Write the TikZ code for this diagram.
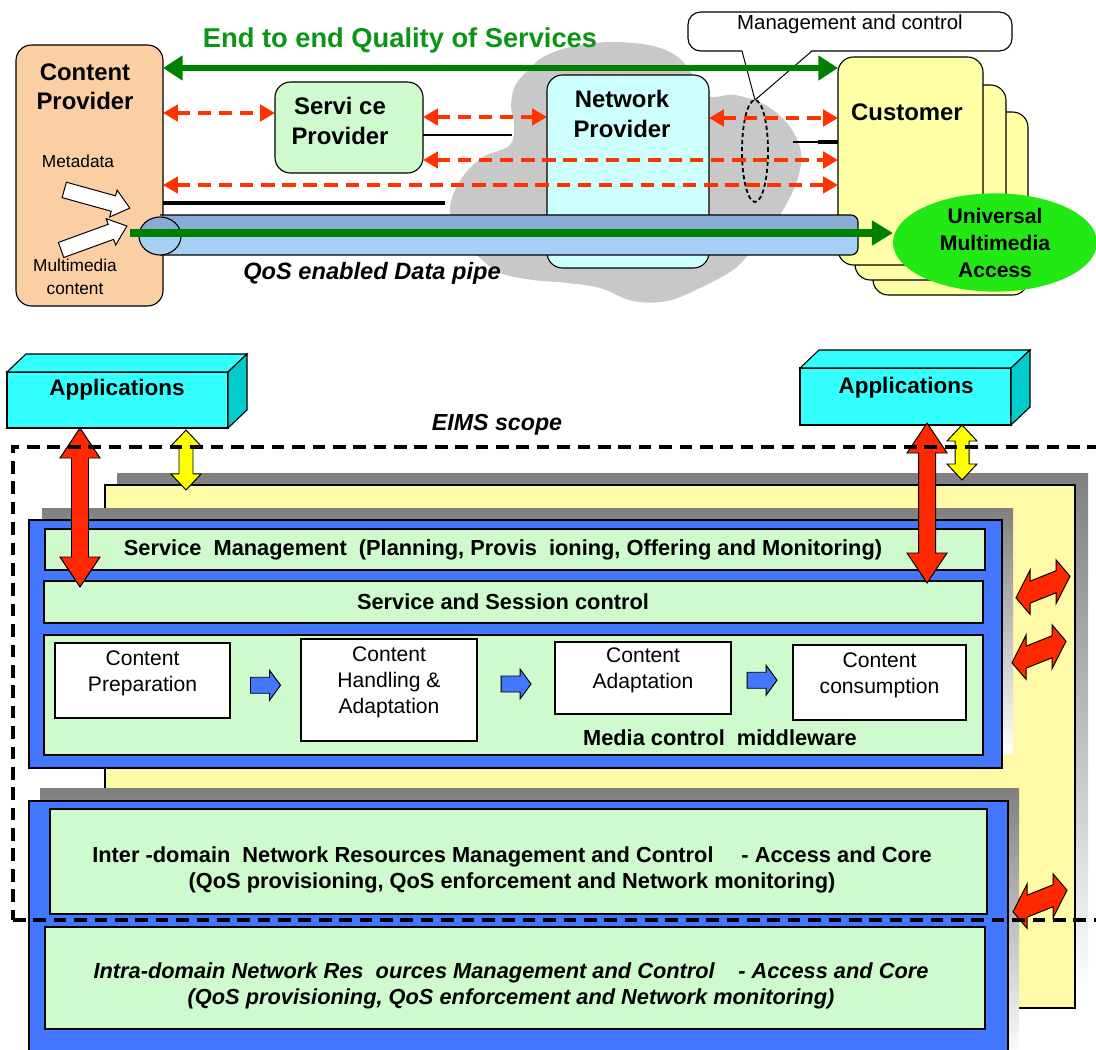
\documentclass[tikz,border=0pt]{standalone}
\usepackage{fontspec}
\setmainfont{Liberation Sans}
\usetikzlibrary{arrows.meta,fit,calc,shapes.geometric}

\definecolor{peach}{RGB}{252,206,164}
\definecolor{spgreen}{RGB}{206,250,206}
\definecolor{npcyan}{RGB}{206,255,255}
\definecolor{cuyel}{RGB}{255,255,165}
\definecolor{cloudgray}{RGB}{200,200,200}
\definecolor{qosgreen}{RGB}{0,128,0}
\definecolor{ttlgreen}{RGB}{10,150,20}
\definecolor{dashred}{RGB}{255,51,0}
\definecolor{umagreen}{RGB}{34,232,20}
\definecolor{pipehi}{RGB}{136,172,212}
\definecolor{pipelo}{RGB}{166,208,246}
\definecolor{appcyan}{RGB}{51,255,255}
\definecolor{appside}{RGB}{0,204,204}
\definecolor{panblue}{RGB}{68,119,255}
\definecolor{rowgreen}{RGB}{206,250,206}
\definecolor{shade}{RGB}{140,140,140}
\definecolor{paleyel}{RGB}{255,250,165}
\definecolor{blockred}{RGB}{255,40,0}
\definecolor{blockyel}{RGB}{255,255,0}

% double block arrow: style, centre, half length, head length, half head, half shaft
\newcommand{\dblarrow}[6]{%
  \begin{scope}[shift={#2},#1]
    \filldraw[line width=0.7pt] (-#3,0) -- (-#3+#4,#5) -- (-#3+#4,#6) -- (#3-#4,#6) -- (#3-#4,#5) -- (#3,0)
      -- (#3-#4,-#5) -- (#3-#4,-#6) -- (-#3+#4,-#6) -- (-#3+#4,-#5) -- cycle;
  \end{scope}}
% single block arrow, same arguments
\newcommand{\onearrow}[6]{%
  \begin{scope}[shift={#2},#1]
    \filldraw[line width=0.7pt] (-#3,#6) -- (#3-#4,#6) -- (#3-#4,#5) -- (#3,0) -- (#3-#4,-#5)
      -- (#3-#4,-#6) -- (-#3,-#6) -- cycle;
  \end{scope}}

\tikzset{
  box/.style={draw, line width=0.8pt, rounded corners=11pt},
  lab/.style={font=\fontsize{17}{21}\selectfont\bfseries, align=center},
  labs/.style={font=\fontsize{12.3}{16}\selectfont, align=center},
  rowtxt/.style={font=\fontsize{15.5}{18.5}\selectfont\bfseries, align=center},
  ctxt/.style={font=\fontsize{15}{18.5}\selectfont, align=center},
  rdash/.style={draw=dashred, line width=3.4pt, dash pattern=on 9.5pt off 5.5pt,
    {Triangle[length=10.5pt,width=11.5pt]}-{Triangle[length=10.5pt,width=11.5pt]}},
  gdbl/.style={draw=qosgreen, line width=4.2pt,
    {Triangle[length=14pt,width=17pt]}-{Triangle[length=14pt,width=17pt]}},
  gpipe/.style={draw=qosgreen, line width=5pt, -{Triangle[length=15pt,width=17pt]}},
  row/.style={draw, line width=0.8pt, fill=rowgreen},
  panel/.style={draw, line width=0.8pt, fill=panblue},
  cbox/.style={draw, line width=0.8pt, fill=white, ctxt},
  app/.style={draw, line width=0.8pt, fill=appcyan},
  eims/.style={line width=3pt, dash pattern=on 9pt off 5.5pt}
}

\begin{document}
\begin{tikzpicture}[x=0.025cm, y=-0.025cm, every node/.style={inner sep=0pt, outer sep=0pt}]
  \def\u{0.025cm}
  \fill[white] (0,0) rectangle (1096,1050);
  \useasboundingbox (0,0) rectangle (1096,1050);

  % Cloud
  \fill[cloudgray] plot[smooth cycle, tension=0.6] coordinates {(450,213) (455,190) (468,170) (485,156)
    (510,145) (514,125) (511,105) (515,86) (528,70) (545,56) (575,46) (613,42) (653,46) (678,57)
    (692,74) (708,96) (735,95) (767,106) (790,127) (801,153) (797,181) (783,210) (767,233) (750,253)
    (733,270) (700,288) (667,301) (633,301) (600,288) (567,283) (533,280) (500,273) (480,258) (460,240)};

  \node[font=\fontsize{19.4}{22}\selectfont\bfseries, text=ttlgreen] (eeq) at (400,40) {End to end Quality of Services};

  % Providers
  \node[box, fill=peach, fit={(16,45) (163,306)}] (cp) {};
  \node[lab] (cptxt) at (85,87) {Content\\Provider};
  \node[labs] (meta) at (78,161) {Metadata};
  \node[labs] (mmc) at (75,277) {Multimedia\\content};
  \onearrow{fill=white, rotate=-15.5}{(97,199)}{34}{17}{14}{8}
  \onearrow{fill=white, rotate=20}{(94,238)}{35}{17}{14}{8}

  \node[box, fill=spgreen, fit={(275,82) (423,173)}] (sp) {};
  \node[lab] (sptxt) at (340,121) {Servi ce\\Provider};
  \node[box, fill=npcyan, fit={(547,75) (709,268)}] (np) {};
  \node[lab] (nptxt) at (622,114) {Network\\Provider};

  % Customers
  \node[box, fill=cuyel, fit={(873,112) (1028,295)}] (cu3) {};
  \node[box, fill=cuyel, fit={(855,85) (1006,280)}] (cu2) {};
  \node[box, fill=cuyel, fit={(838,57) (983,265)}] (cu) {};
  \node[lab] (cutxt) at (907,112) {Customer};

  % Management and control
  \node[draw, line width=0.8pt, fill=white, rounded corners=9pt, fit={(688,12) (1012,51)},
    font=\fontsize{14.5}{17}\selectfont] (mc) {Management and control};
  \node[draw, ellipse, dash pattern=on 3pt off 2pt, line width=1.3pt,
    minimum width=26*\u, minimum height=102*\u] (me) at (755,151) {};
  \fill[white] (742,50) -- (me.north) -- (812,50) -- cycle;
  \draw[line width=0.7pt] (742,51) -- (me.north) -- (812,51);

  % Signalling
  \draw[rdash] (cp.east |- 0,113) -- (sp.west |- 0,113);
  \draw[rdash] (sp.east |- 0,117) -- (np.west |- 0,117);
  \draw[rdash] (np.east |- 0,118) -- (cu.west |- 0,118);
  \draw[rdash] (sp.east |- 0,160) -- (cu.west |- 0,160);
  \draw[rdash] (cp.east |- 0,185) -- (cu.west |- 0,185);
  \draw[line width=0.8pt] (sp.east |- 0,135) -- (512,135);
  \draw[line width=0.8pt] (793,142) -- (818,142);
  \draw[line width=2.5pt] (818,142) -- (cu.west |- 0,142);
  \draw[line width=2.2pt] (cp.east |- 0,203) -- (445,203);

  % Data pipe
  \begin{scope}
    \clip[rounded corners=5pt] (160,215) rectangle (858,255);
    \fill[pipehi] (150,215) rectangle (858,234);
    \fill[pipelo] (150,234) rectangle (858,255);
  \end{scope}
  \draw[line width=0.8pt, rounded corners=5pt] (160,215) -- (858,215) -- (858,255) -- (160,255);
  \node[draw, ellipse, line width=0.8pt, fill=pipelo, minimum width=42*\u, minimum height=38*\u,
    path picture={\fill[pipehi] (path picture bounding box.north west) rectangle (path picture bounding box.east);}]
    (cap) at (160,236) {};
  \node[ellipse, fill=umagreen, minimum width=204*\u, minimum height=95*\u,
    font=\fontsize{15}{19.2}\selectfont\bfseries, align=center] (uma) at (995,242.5) {Universal\\Multimedia\\Access};
  \coordinate (pin) at (130,233);
  \draw[gpipe] (pin) -- (uma.west |- pin);
  \node[font=\fontsize{16.8}{20}\selectfont\bfseries\itshape] (qtxt) at (372,273) {QoS enabled Data pipe};

  \draw[gdbl] (cp.east |- 0,68) -- (cu.west |- 0,68);

  % EIMS layers
  \fill[shade] (117,473) rectangle (1088,995);
  \node[draw, line width=0.8pt, fill=paleyel, fit={(105,485) (1075,1008)}] (ypan) {};
  \fill[shade] (42,508) rectangle (1013,753);
  \node[panel, fit={(29,520) (1002,768)}] (upan) {};
  \node[row, fit={(45,529) (985,570)}] (smg) {};
  \node[rowtxt] at (503,550) {Service~~Management~~(Planning, Provis~~ioning, Offering and Monitoring)};
  \node[row, fit={(44,581) (983,623)}] (ssc) {};
  \node[rowtxt] at (503,602) {Service and Session control};
  \node[row, fit={(44,635) (983,755)}] (mcm) {};
  \node[rowtxt] at (720,738) {Media control~~middleware};

  \node[cbox, fit={(55,643) (230,718)}] (cprep) {Content\\Preparation};
  \node[cbox, fit={(301,639) (477,741)}] (chand) {Content\\Handling \&\\Adaptation};
  \node[cbox, fit={(555,642) (731,714)}] (cadap) {Content\\Adaptation};
  \node[cbox, fit={(793,645) (966,720)}] (ccons) {Content\\consumption};
  \onearrow{fill=panblue}{($(cprep.east)!.5!(chand.west)$)}{15}{11}{15}{8}
  \onearrow{fill=panblue}{($(chand.east)!.5!(cadap.west)$)}{15}{11}{15}{8}
  \onearrow{fill=panblue}{($(cadap.east)!.5!(ccons.west)$)}{15}{11}{15}{8}

  \fill[shade] (40,788) rectangle (1019,1060);
  \node[panel, fit={(29,801) (1008,1060)}] (lpan) {};
  \node[row, fit={(50,809) (987,914)}] (inter) {};
  \node[rowtxt] at (512,870) {Inter -domain~~Network Resources Management and Control\hspace{1em} - Access and Core\\
    (QoS provisioning, QoS enforcement and Network monitoring)};
  \node[row, fit={(45,927) (985,1029)}] (intra) {};
  \node[rowtxt, font=\fontsize{15.5}{18.5}\selectfont\bfseries\itshape] at (511,986)
    {Intra-domain Network Res~~ources Management and Control\hspace{0.8em} - Access and Core\\
    (QoS provisioning, QoS enforcement and Network monitoring)};

  % Applications
  \node[app, fit={(7,372) (228,428)}] (apl) {};
  \draw[line width=0.8pt, fill=appcyan] (apl.north west) -- ++(19,-18) -- ++(221,0) -- (apl.north east) -- cycle;
  \draw[line width=0.8pt, fill=appside] (apl.north east) -- ++(19,-18) -- ++(0,56) -- (apl.south east) -- cycle;
  \node[font=\fontsize{16}{19}\selectfont\bfseries] at (117,390) {Applications};
  \node[app, fit={(800,368) (1011,425)}] (apr) {};
  \draw[line width=0.8pt, fill=appcyan] (apr.north west) -- ++(19,-18) -- ++(211,0) -- (apr.north east) -- cycle;
  \draw[line width=0.8pt, fill=appside] (apr.north east) -- ++(19,-18) -- ++(0,57) -- (apr.south east) -- cycle;
  \node[font=\fontsize{16}{19}\selectfont\bfseries] at (906,388) {Applications};

  % Interfaces
  \dblarrow{fill=blockred, rotate=90}{(80,507.5)}{79.5}{30}{20}{8.5}
  \dblarrow{fill=blockred, rotate=90}{(927,503)}{80}{30}{20}{8.5}
  \dblarrow{fill=blockyel, rotate=90}{(186,460)}{30}{16}{15}{7}
  \dblarrow{fill=blockyel, rotate=90}{(962,452.5)}{27.5}{16}{15}{7}
  \foreach \yy/\xx in {587/1043, 652/1039, 901/1040} {
    \dblarrow{fill=blockred, yslant=0.4}{(\xx,\yy)}{27}{14}{22}{11}
  }

  % EIMS scope
  \draw[eims, line width=3.4pt] (1100,447) -- (13,447) -- (13,920);
  \draw[eims, line width=2.6pt] (13,920) -- (1100,920);
  \node[font=\fontsize{16.5}{19}\selectfont\bfseries\itshape] (eims) at (497,425) {EIMS scope};
\end{tikzpicture}
\end{document}
